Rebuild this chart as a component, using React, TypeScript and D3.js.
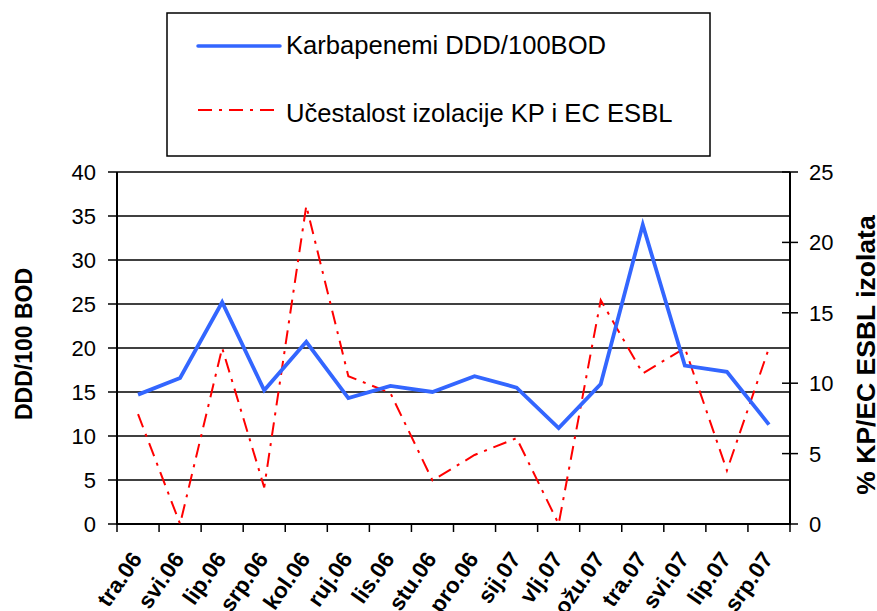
import React from "react";
import * as d3 from "d3";

const categories = ["tra.06","svi.06","lip.06","srp.06","kol.06","ruj.06","lis.06","stu.06","pro.06","sij.07","vlj.07","ožu.07","tra.07","svi.07","lip.07","srp.07"];
const karbapenemi = [14.7,16.6,25.2,15.2,20.7,14.3,15.7,15.0,16.8,15.5,10.9,15.9,34.0,18.0,17.3,11.3];
const esbl = [7.8,0,12.5,2.6,22.6,10.5,9.3,3.1,4.9,6.1,0,15.9,10.7,12.5,3.8,12.5];
const leftTicks = [0,5,10,15,20,25,30,35,40];
const rightTicks = [0,5,10,15,20,25];
const seriesNames = ["Karbapenemi DDD/100BOD", "Učestalost izolacije KP i EC ESBL"];
const leftTitle = "DDD/100 BOD";
const rightTitle = "% KP/EC ESBL izolata";

const W = 877, H = 611;
const X0 = 117, X1 = 790, YT = 172, YB = 524;
const FONT = "'Liberation Sans', Arial, Helvetica, sans-serif";
const BLUE = "#3366ff";
const RED = "#ff0000";
const DASH = "14,7,3,7";

export default function App() {
  const x = d3.scaleBand<string>().domain(categories).range([X0, X1]).paddingInner(0).paddingOuter(0);
  const bw = x.bandwidth();
  const cx = (c: string) => (x(c) as number) + bw / 2;
  const yL = d3.scaleLinear().domain([0, 40]).range([YB, YT]);
  const yR = d3.scaleLinear().domain([0, 25]).range([YB, YT]);

  const lineL = d3.line<number>().x((_, i) => cx(categories[i])).y((d) => yL(d));
  const lineR = d3.line<number>().x((_, i) => cx(categories[i])).y((d) => yR(d));

  const boundaries = categories.map((c) => x(c) as number).concat([X1]);

  return (
    <svg width={W} height={H} style={{ position: "absolute", left: 0, top: 0, background: "#fff" }} fontFamily={FONT}>
      <rect x={0} y={0} width={W} height={H} fill="#fff" />
      {/* legend */}
      <rect x={167} y={13} width={543} height={143} fill="#fff" stroke="#000" strokeWidth={1.5} />
      <line x1={198} x2={280} y1={46} y2={46} stroke={BLUE} strokeWidth={3.5} strokeLinecap="round" />
      <text x={286} y={54} fontSize={25.6} fill="#000">{seriesNames[0]}</text>
      <line x1={198} x2={280} y1={110} y2={110} stroke={RED} strokeWidth={2} strokeDasharray={DASH} />
      <text x={286} y={122} fontSize={25.6} fill="#000">{seriesNames[1]}</text>

      {/* gridlines */}
      {leftTicks.filter((t) => t > 0).map((t) => (
        <line key={"g" + t} x1={X0} x2={X1} y1={yL(t)} y2={yL(t)} stroke="#000" strokeWidth={1.4} />
      ))}
      {/* left axis */}
      <line x1={X0} x2={X0} y1={YT} y2={YB + 1} stroke="#000" strokeWidth={2} />
      {leftTicks.map((t) => (
        <g key={"l" + t}>
          <line x1={108} x2={X0} y1={yL(t)} y2={yL(t)} stroke="#000" strokeWidth={1.5} />
          <text x={96} y={yL(t)} dy="0.36em" textAnchor="end" fontSize={22} fill="#000">{t}</text>
        </g>
      ))}
      {/* right axis */}
      <line x1={X1} x2={X1} y1={YT} y2={YB + 1} stroke="#000" strokeWidth={2} />
      {rightTicks.map((t) => (
        <g key={"r" + t}>
          <line x1={782} x2={798} y1={yR(t)} y2={yR(t)} stroke="#000" strokeWidth={1.5} />
          <text x={809} y={yR(t)} dy="0.36em" textAnchor="start" fontSize={22} fill="#000">{t}</text>
        </g>
      ))}
      {/* x axis */}
      <line x1={X0 - 1} x2={X1 + 1} y1={YB} y2={YB} stroke="#000" strokeWidth={2.2} />
      {boundaries.map((b, i) => (
        <line key={"xt" + i} x1={b} x2={b} y1={YB} y2={YB + 8} stroke="#000" strokeWidth={1.5} />
      ))}
      {categories.map((c) => (
        <text key={"xl" + c} transform={`translate(${cx(c) + 5},${559}) rotate(-55)`} textAnchor="end"
          fontSize={22.5} fontWeight="bold" fill="#000">{c}</text>
      ))}

      {/* series */}
      <path d={lineR(esbl) as string} fill="none" stroke={RED} strokeWidth={2} strokeDasharray={DASH} />
      <path d={lineL(karbapenemi) as string} fill="none" stroke={BLUE} strokeWidth={3.8} strokeLinejoin="miter" />

      {/* axis titles */}
      <text transform={`translate(${32},${344}) rotate(-90)`} textAnchor="middle" fontSize={23} fontWeight="bold" fill="#000">{leftTitle}</text>
      <text transform={`translate(${875},${355}) rotate(-90)`} textAnchor="middle" fontSize={26.5} fontWeight="bold" fill="#000">{rightTitle}</text>
    </svg>
  );
}
